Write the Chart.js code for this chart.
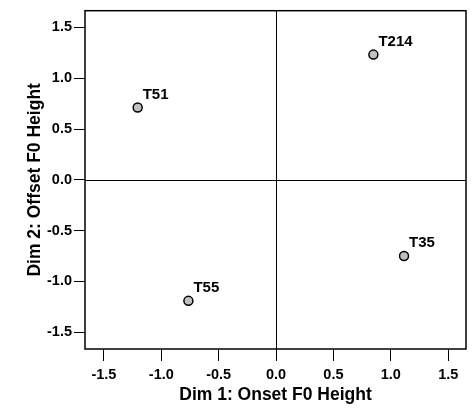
<!DOCTYPE html>
<html>
<head>
<meta charset="utf-8">
<script src="https://cdn.jsdelivr.net/npm/chart.js@4/dist/chart.umd.min.js"></script>
<style>
  html, body { margin: 0; padding: 0; background: #fff; }
  #wrap { width: 472px; height: 408px; }
</style>
</head>
<body>
<div id="wrap"><canvas id="c" width="472" height="408"></canvas></div>
<script>
// Stimulus items placed in the two-dimensional scaling space
const stimulusNames = ['T214', 'T51', 'T35', 'T55'];
const dim1Values = [0.848, -1.206, 1.115, -0.764];   // Onset F0 Height
const dim2Values = [1.233, 0.713, -0.749, -1.191];   // Offset F0 Height
const tickValues = [-1.5, -1.0, -0.5, 0.0, 0.5, 1.0, 1.5];

const FONT = "'Liberation Sans', Arial, Helvetica, sans-serif";

const points = stimulusNames.map((n, i) => ({ x: dim1Values[i], y: dim2Values[i], name: n }));

// Frame around the plot area plus the zero reference lines
const framePlugin = {
  id: 'frame',
  beforeDatasetsDraw(chart) {
    const { ctx, chartArea: a, scales } = chart;
    ctx.save();
    ctx.strokeStyle = '#000';
    ctx.lineWidth = 1;
    const x0 = Math.round(scales.x.getPixelForValue(0)) + 0.5;
    const y0 = Math.round(scales.y.getPixelForValue(0)) + 0.5;
    ctx.beginPath();
    ctx.moveTo(x0, a.top); ctx.lineTo(x0, a.bottom);
    ctx.moveTo(a.left, y0); ctx.lineTo(a.right, y0);
    ctx.stroke();
    ctx.lineWidth = 1.5;
    ctx.strokeRect(a.left, a.top, a.right - a.left, a.bottom - a.top);
    ctx.restore();
  },
  afterDatasetsDraw(chart) {
    const { ctx } = chart;
    const meta = chart.getDatasetMeta(0);
    ctx.save();
    ctx.fillStyle = '#000';
    ctx.font = 'bold 15px ' + FONT;
    ctx.textAlign = 'left';
    ctx.textBaseline = 'middle';
    meta.data.forEach((el, i) => {
      ctx.fillText(points[i].name, el.x + 5, el.y - 13);
    });
    ctx.restore();
  }
};

const tickFont = { family: FONT, size: 14.5, weight: 'bold' };
const titleFont = { family: FONT, size: 17.5, weight: 'bold' };

new Chart(document.getElementById('c'), {
  type: 'scatter',
  data: {
    datasets: [{
      data: points,
      pointRadius: 4.5,
      pointHoverRadius: 4.5,
      pointBackgroundColor: '#c0c0c0',
      pointBorderColor: '#000',
      pointBorderWidth: 1.5
    }]
  },
  options: {
    responsive: false,
    animation: false,
    events: [],
    layout: { padding: { top: 8, right: 5, left: 0, bottom: 0 } },
    plugins: { legend: { display: false }, tooltip: { enabled: false } },
    scales: {
      x: {
        type: 'linear',
        min: -1.665,
        max: 1.655,
        afterBuildTicks(scale) { scale.ticks = tickValues.map(v => ({ value: v })); },
        afterFit(scale) { scale.height = 59; },
        border: { display: false },
        grid: { drawOnChartArea: false, drawTicks: true, tickLength: 12, tickColor: '#000', lineWidth: 1 },
        ticks: { color: '#000', font: tickFont, padding: 5, maxRotation: 0, autoSkip: false,
                 callback: v => v.toFixed(1) },
        title: { display: true, text: 'Dim 1: Onset F0 Height', color: '#000', font: titleFont,
                 padding: { top: 0, bottom: 2 } }
      },
      y: {
        type: 'linear',
        min: -1.665,
        max: 1.665,
        afterBuildTicks(scale) { scale.ticks = tickValues.map(v => ({ value: v })); },
        afterFit(scale) { scale.width = 85; },
        border: { display: false },
        grid: { drawOnChartArea: false, drawTicks: true, tickLength: 11, tickColor: '#000', lineWidth: 1 },
        ticks: { color: '#000', font: tickFont, padding: 2, autoSkip: false,
                 callback: v => v.toFixed(1) },
        title: { display: true, text: 'Dim 2: Offset F0 Height', color: '#000', font: titleFont,
                 padding: { top: 25, bottom: 0 } }
      }
    }
  },
  plugins: [framePlugin]
});
</script>
</body>
</html>
